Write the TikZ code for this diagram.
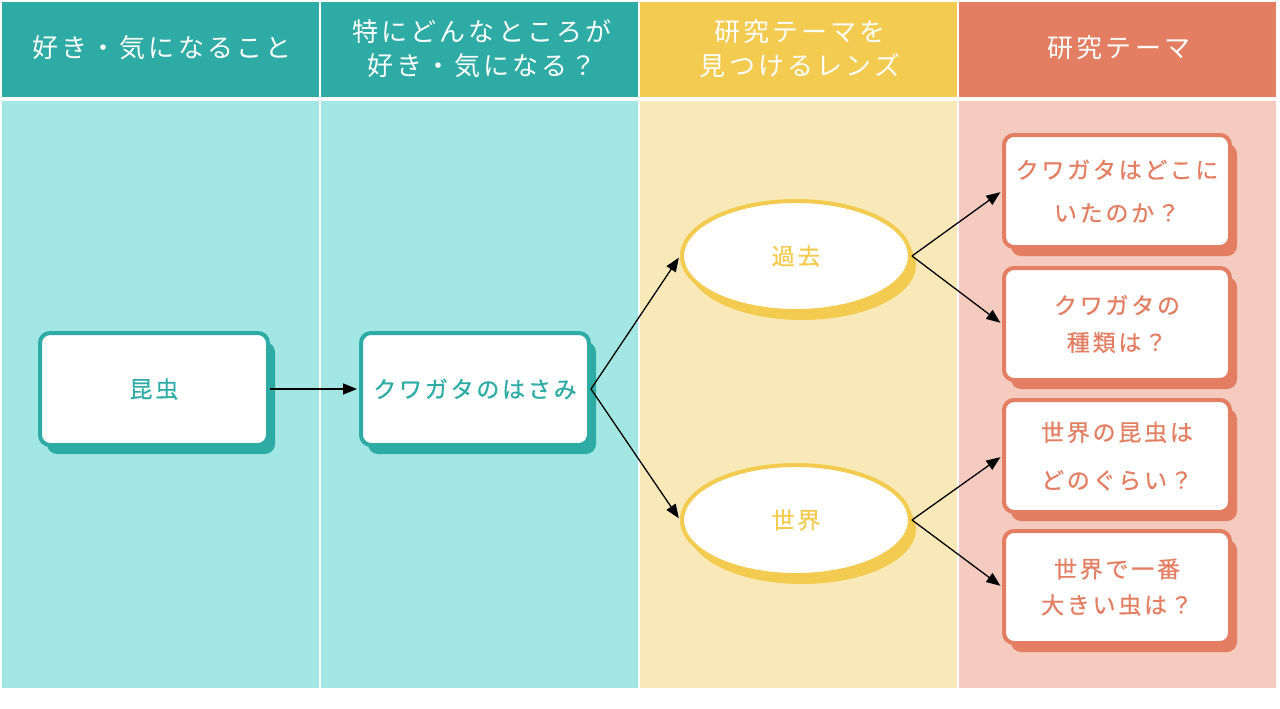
\documentclass[tikz,border=0pt]{standalone}
\usepackage{fontspec}
\setmainfont{Noto Sans CJK JP}
\newfontfamily\jphead[LetterSpace=12]{Noto Sans CJK JP}
\newfontfamily\jpbody[LetterSpace=12,FakeBold=0.6]{Noto Sans CJK JP}
\usetikzlibrary{arrows.meta,shapes.geometric,shadows}
\definecolor{Teal}{RGB}{46,171,165}
\definecolor{TealLight}{RGB}{162,231,227}
\definecolor{Gold}{RGB}{242,203,80}
\definecolor{GoldLight}{RGB}{250,233,184}
\definecolor{Coral}{RGB}{227,126,98}
\definecolor{CoralLight}{RGB}{244,203,190}

\tikzset{
  headtext/.style={text=white, align=center, font=\jphead\fontsize{26}{34}\selectfont},
  card/.style={draw=#1, fill=white, line width=4pt, rounded corners=10pt,
    minimum width=228pt, minimum height=112pt, align=center, text=#1,
    font=\jpbody\fontsize{23}{38}\selectfont,
    drop shadow={shadow xshift=7pt, shadow yshift=-9pt, fill=#1, opacity=1}},
  lens/.style={ellipse, draw=Gold, fill=white, line width=4pt,
    minimum width=228pt, minimum height=110pt, text=Gold,
    font=\jpbody\fontsize{23}{38}\selectfont,
    drop shadow={shadow xshift=6pt, shadow yshift=-9pt, fill=Gold, opacity=1}},
  link/.style={line width=1.3pt, -{Triangle[length=14pt,width=11pt]}, shorten >=2pt}
}

\begin{document}
\begin{tikzpicture}[x=1pt, y=-1pt]
    %% Background
    \fill[white] (0,0) rectangle (1280,709);
    \useasboundingbox (0,0) rectangle (1280,709);

    %% Columns
    \fill[Teal] (2,2) rectangle (319,97);
    \fill[Teal] (321,2) rectangle (638,97);
    \fill[Gold] (640,2) rectangle (957,97);
    \fill[Coral] (959,2) rectangle (1276,97);

    \fill[TealLight] (2,101) rectangle (319,688);
    \fill[TealLight] (321,101) rectangle (638,688);
    \fill[GoldLight] (640,101) rectangle (957,688);
    \fill[CoralLight] (959,101) rectangle (1276,688);

    %% Headers
    \node[headtext] (head1) at (162,48) {好き・気になること};
    \node[headtext] (head2) at (482,49) {特にどんなところが\\好き・気になる？};
    \node[headtext] (head3) at (800,49) {研究テーマを\\見つけるレンズ};
    \node[headtext] (head4) at (1119,48) {研究テーマ};

    %% Cards
    \node[card=Teal] (insect) at (154,389) {昆虫};
    \node[card=Teal] (pincer) at (475,389) {クワガタのはさみ};

    %% Lenses
    \node[lens] (past) at (796,256) {過去};
    \node[lens] (world) at (796,520) {世界};

    %% Themes
    \node[card=Coral, minimum width=226pt, font=\jpbody\fontsize{23}{43}\selectfont] (where) at (1117,191) {クワガタはどこに\\いたのか？};
    \node[card=Coral, minimum width=226pt, font=\jpbody\fontsize{23}{37}\selectfont] (kinds) at (1117,324) {クワガタの\\種類は？};
    \node[card=Coral, minimum width=226pt, font=\jpbody\fontsize{23}{48}\selectfont] (count) at (1117,456) {世界の昆虫は\\どのぐらい？};
    \node[card=Coral, minimum width=226pt, font=\jpbody\fontsize{23}{36}\selectfont] (biggest) at (1117,587) {世界で一番\\大きい虫は？};

    %% Links
    \draw[link] (insect.east) -- (pincer.west);
    \draw[link] (pincer.east) -- (past.west);
    \draw[link] (pincer.east) -- (world.west);
    \draw[link] (past.east) -- (where.west);
    \draw[link] (past.east) -- (kinds.west);
    \draw[link] (world.east) -- (count.west);
    \draw[link] (world.east) -- (biggest.west);
\end{tikzpicture}
\end{document}
